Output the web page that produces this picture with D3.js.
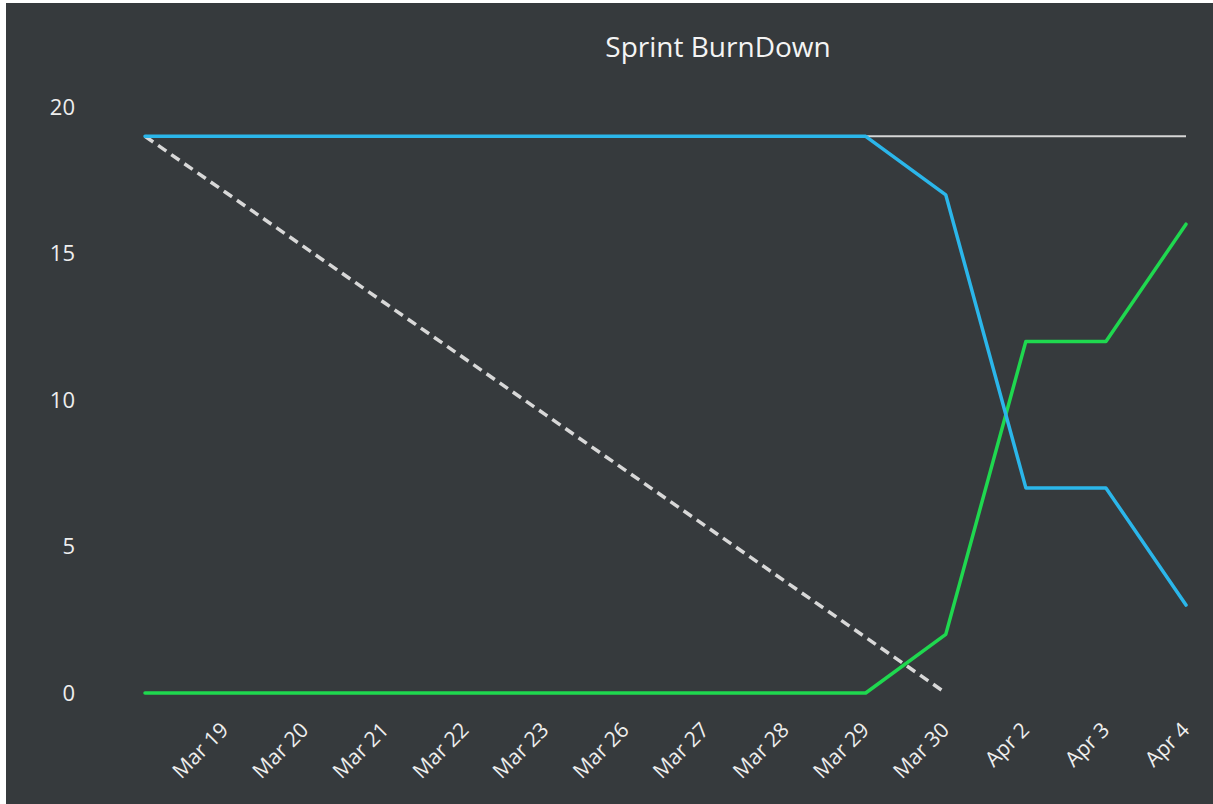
<!DOCTYPE html>
<html lang="en">
<head>
    <meta charset="UTF-8">
    <title>Sprint BurnDown</title>
    <script src="https://cdn.jsdelivr.net/npm/d3@7"></script>
    <style>
        body { margin: 0; background: #fff; }
        text { font-family: "Open Sans", sans-serif; }
    </style>
</head>
<body>
<script>
    // categories: the first point is the sprint start and has no label
    var days = ['', 'Mar 19', 'Mar 20', 'Mar 21', 'Mar 22', 'Mar 23', 'Mar 26', 'Mar 27',
        'Mar 28', 'Mar 29', 'Mar 30', 'Apr 2', 'Apr 3', 'Apr 4'];
    var remaining = [19, 19, 19, 19, 19, 19, 19, 19, 19, 19, 17, 7, 7, 3];
    var done = [0, 0, 0, 0, 0, 0, 0, 0, 0, 0, 2, 12, 12, 16];
    var scope = [19, 19, 19, 19, 19, 19, 19, 19, 19, 19, 19, 19, 19, 19];
    var ideal = [19, 17.1, 15.2, 13.3, 11.4, 9.5, 7.6, 5.7, 3.8, 1.9, 0];
    var yTicks = [0, 5, 10, 15, 20];

    var width = 1213, height = 804;

    var svg = d3.select('body').append('svg')
        .attr('width', width)
        .attr('height', height);

    // dark panel
    svg.append('rect')
        .attr('x', 6).attr('y', 3)
        .attr('width', width - 6).attr('height', height - 3)
        .attr('fill', '#363a3d');

    var x = d3.scalePoint().domain(d3.range(days.length)).range([145, 1186]);
    var y = d3.scaleLinear().domain([0, 20]).range([693, 107]);

    svg.append('text')
        .attr('x', 718).attr('y', 57)
        .attr('text-anchor', 'middle')
        .attr('fill', '#f4f4f4')
        .attr('font-size', '28px')
        .text('Sprint BurnDown');

    // y axis, labels only
    var yAxis = svg.append('g')
        .attr('transform', 'translate(75,0)')
        .call(d3.axisLeft(y).tickValues(yTicks).tickSize(0).tickPadding(0));
    yAxis.select('.domain').remove();
    yAxis.selectAll('text')
        .attr('fill', '#eeeeee')
        .attr('font-size', '22px')
        .attr('font-weight', 500)
        .attr('dy', '0.34em');

    // x axis, rotated labels
    var xAxis = svg.append('g')
        .attr('transform', 'translate(0,726)')
        .call(d3.axisBottom(x).tickSize(0).tickPadding(0).tickFormat(function(i) { return days[i]; }));
    xAxis.select('.domain').remove();
    xAxis.selectAll('text')
        .attr('fill', '#eeeeee')
        .attr('font-size', '21px')
        .attr('font-weight', 500)
        .attr('text-anchor', 'end')
        .attr('y', 0)
        .attr('dy', '0.35em')
        .attr('transform', 'translate(-1,0) rotate(-45)');

    var line = d3.line()
        .x(function(d, i) { return x(i); })
        .y(function(d) { return y(d); });

    svg.append('path').datum(scope)
        .attr('d', line)
        .attr('fill', 'none')
        .attr('stroke', '#d6d6d6')
        .attr('stroke-width', 2);

    svg.append('path').datum(ideal)
        .attr('d', line)
        .attr('fill', 'none')
        .attr('stroke', '#d8d8d8')
        .attr('stroke-width', 3.5)
        .attr('stroke-dasharray', '10,6');

    svg.append('path').datum(done)
        .attr('d', line)
        .attr('fill', 'none')
        .attr('stroke', '#1fd84f')
        .attr('stroke-width', 3.5)
        .attr('stroke-linejoin', 'round')
        .attr('stroke-linecap', 'round');

    svg.append('path').datum(remaining)
        .attr('d', line)
        .attr('fill', 'none')
        .attr('stroke', '#2bb6ea')
        .attr('stroke-width', 3.5)
        .attr('stroke-linejoin', 'round')
        .attr('stroke-linecap', 'round');
</script>
</body>
</html>
